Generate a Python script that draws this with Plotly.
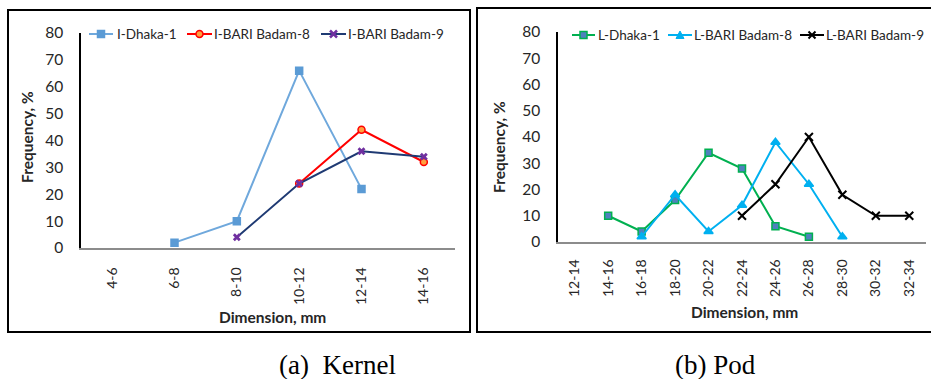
import plotly.graph_objects as go

# ---------------- data ----------------
kernel_cats = ["4-6", "6-8", "8-10", "10-12", "12-14", "14-16"]
kernel_dhaka1 = [None, 2, 10, 66, 22, None]
kernel_bari8 = [None, None, None, 24, 44, 32]
kernel_bari9 = [None, None, 4, 24, 36, 34]

pod_cats = ["12-14", "14-16", "16-18", "18-20", "20-22", "22-24",
            "24-26", "26-28", "28-30", "30-32", "32-34"]
pod_dhaka1 = [None, 10, 4, 16, 34, 28, 6, 2, None, None, None]
pod_bari8 = [None, None, 2, 18, 4, 14, 38, 22, 2, None, None]
pod_bari9 = [None, None, None, None, None, 10, 22, 40, 18, 10, 10]

y_ticks = [0, 10, 20, 30, 40, 50, 60, 70, 80]

W, H = 931, 379
FONT = "Lato, 'Liberation Sans', sans-serif"
TXT = "#262626"

def px(x):
    return x / W

def py(y):
    return 1 - y / H

# series styles
S = {
    "I-Dhaka-1": dict(line="#6FA8DC", sym="square", fill="#5B9BD5", edge="#5B9BD5"),
    "I-BARI Badam-8": dict(line="#FF0000", sym="circle", fill="#FFA040", edge="#FF0000"),
    "I-BARI Badam-9": dict(line="#1F3A73", sym="x", fill="#7030A0", edge="#7030A0"),
    "L-Dhaka-1": dict(line="#00B050", sym="square", fill="#4F81BD", edge="#00B050"),
    "L-BARI Badam-8": dict(line="#00B0F0", sym="triangle-up", fill="#00B0F0", edge="#00B0F0"),
    "L-BARI Badam-9": dict(line="#000000", sym="x-thin", fill="#000000", edge="#000000"),
}

fig = go.Figure()

def add_series(name, cats, vals, xa, ya, size=7):
    st = S[name]
    mk = dict(symbol=st["sym"], size=size, color=st["fill"],
              line=dict(color=st["edge"], width=1.5 if st["sym"] != "x-thin" else 2))
    if st["sym"] == "x":
        mk["line"] = dict(width=0)
    fig.add_trace(go.Scatter(x=cats, y=vals, name=name, mode="lines+markers",
                             line=dict(color=st["line"], width=2), marker=mk,
                             xaxis=xa, yaxis=ya, showlegend=False))

add_series("I-Dhaka-1", kernel_cats, kernel_dhaka1, "x", "y")
add_series("I-BARI Badam-8", kernel_cats, kernel_bari8, "x", "y")
add_series("I-BARI Badam-9", kernel_cats, kernel_bari9, "x", "y")
add_series("L-Dhaka-1", pod_cats, pod_dhaka1, "x2", "y2")
add_series("L-BARI Badam-8", pod_cats, pod_bari8, "x2", "y2", size=8)
add_series("L-BARI Badam-9", pod_cats, pod_bari9, "x2", "y2", size=8)

xaxis_common = dict(type="category", showgrid=False, zeroline=False, showline=True,
                    linecolor="#8C8C8C", linewidth=1.5, tickangle=-90,
                    tickfont=dict(family=FONT, size=14, color=TXT), ticks="",
                    ticklabelstandoff=12, fixedrange=True, automargin=False)
yaxis_common = dict(range=[0, 80], tickvals=y_ticks, showgrid=False, zeroline=False,
                    showline=True, linecolor="#000000", linewidth=1.5, ticks="",
                    tickfont=dict(family=FONT, size=15.5, color=TXT),
                    ticklabelstandoff=13, fixedrange=True, automargin=False)

fig.update_layout(
    width=W, height=H,
    margin=dict(l=0, r=0, t=0, b=0, autoexpand=False),
    paper_bgcolor="white", plot_bgcolor="white",
    font=dict(family=FONT, color=TXT),
    showlegend=False,
    xaxis=dict(xaxis_common, domain=[px(81), px(455)], range=[-0.5, 5.5],
               categoryorder="array", categoryarray=kernel_cats, anchor="y"),
    yaxis=dict(yaxis_common, domain=[py(248), py(33)], anchor="x"),
    xaxis2=dict(xaxis_common, domain=[px(558), px(926)], range=[-0.5, 10.5],
                categoryorder="array", categoryarray=pod_cats, anchor="y2",
                ticklabelstandoff=10),
    yaxis2=dict(yaxis_common, domain=[py(242), py(32)], anchor="x2"),
)

# panel borders
fig.add_shape(type="rect", xref="paper", yref="paper",
              x0=px(8), x1=px(470), y0=py(332), y1=py(10),
              line=dict(color="black", width=2), fillcolor="rgba(0,0,0,0)", layer="below")
fig.add_shape(type="rect", xref="paper", yref="paper",
              x0=px(477), x1=px(935), y0=py(332), y1=py(8),
              line=dict(color="black", width=2), fillcolor="rgba(0,0,0,0)", layer="below")

# ---- manual legends (Excel-style short keys) ----
leg_font = dict(family=FONT, size=13.5, color=TXT)

def legend_key(name, x0, x1, yc, text_x):
    st = S[name]
    fig.add_shape(type="line", xref="paper", yref="paper",
                  x0=px(x0), x1=px(x1), y0=py(yc), y1=py(yc),
                  line=dict(color=st["line"], width=2))
    cx = (x0 + x1) / 2
    r = 3.5
    if st["sym"] == "square":
        fig.add_shape(type="rect", xref="paper", yref="paper",
                      x0=px(cx - r), x1=px(cx + r), y0=py(yc + r), y1=py(yc - r),
                      fillcolor=st["fill"], line=dict(color=st["edge"], width=1.5))
    elif st["sym"] == "circle":
        fig.add_shape(type="circle", xref="paper", yref="paper",
                      x0=px(cx - r), x1=px(cx + r), y0=py(yc + r), y1=py(yc - r),
                      fillcolor=st["fill"], line=dict(color=st["edge"], width=1.5))
    elif st["sym"] == "triangle-up":
        p = "M {:.5f},{:.5f} L {:.5f},{:.5f} L {:.5f},{:.5f} Z".format(
            px(cx - 4), py(yc + 3.5), px(cx + 4), py(yc + 3.5), px(cx), py(yc - 4))
        fig.add_shape(type="path", xref="paper", yref="paper", path=p,
                      fillcolor=st["fill"], line=dict(color=st["edge"], width=1))
    else:
        p = "M {:.5f},{:.5f} L {:.5f},{:.5f} M {:.5f},{:.5f} L {:.5f},{:.5f}".format(
            px(cx - r), py(yc - r), px(cx + r), py(yc + r),
            px(cx - r), py(yc + r), px(cx + r), py(yc - r))
        fig.add_shape(type="path", xref="paper", yref="paper", path=p,
                      line=dict(color=st["fill"], width=2.5 if st["sym"] == "x" else 2))
    fig.add_annotation(text=name, xref="paper", yref="paper", x=px(text_x), y=py(yc),
                       xanchor="left", yanchor="middle", showarrow=False, font=leg_font)

legend_key("I-Dhaka-1", 89, 113, 34, 115)
legend_key("I-BARI Badam-8", 187, 212, 34, 212)
legend_key("I-BARI Badam-9", 321, 346, 34, 346)
legend_key("L-Dhaka-1", 572, 595, 35, 596)
legend_key("L-BARI Badam-8", 668, 692, 35, 692)
legend_key("L-BARI Badam-9", 800, 824, 35, 824)

# axis titles
bold = dict(family=FONT, size=15.5, color=TXT)

def note(text, x, y, font, angle=0, xa="center"):
    fig.add_annotation(text=text, xref="paper", yref="paper", x=px(x), y=py(y),
                       xanchor=xa, yanchor="middle", textangle=angle,
                       showarrow=False, font=font)

note("<b>Frequency, %</b>", 27, 137, bold, angle=-90)
note("<b>Frequency, %</b>", 499, 147, bold, angle=-90)
note("<b>Dimension, mm</b>", 272, 317, bold)
note("<b>Dimension, mm</b>", 744, 312, bold)

# captions
cap = dict(family="'Liberation Serif', 'Times New Roman', serif", size=27, color="black")
note("(a)  Kernel", 277, 365, cap, xa="left")
note("(b) Pod", 673, 365, cap, xa="left")

fig.write_html("out.html",
               config={"displayModeBar": False},
               post_script="document.body.style.margin='0px';document.body.style.overflow='hidden';")
